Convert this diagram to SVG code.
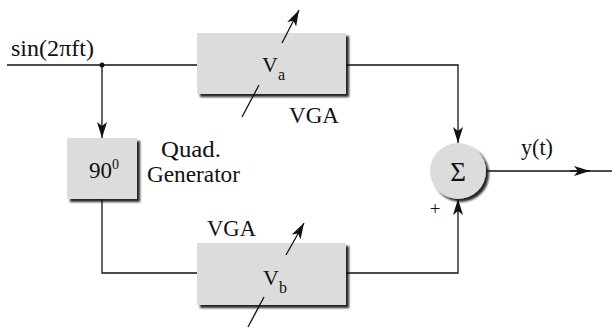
<svg xmlns="http://www.w3.org/2000/svg" width="612" height="329" viewBox="0 0 612 329">
<style>
.t{font-family:"Liberation Serif","Times New Roman",serif;fill:#111;}
.w{stroke:#111;stroke-width:1.3;fill:none;}
.blk{fill:#dcdcdc;filter:url(#sh);}
</style>
<defs>
<filter id="sh" x="-10%" y="-10%" width="130%" height="130%">
<feDropShadow dx="3" dy="3" stdDeviation="1" flood-color="#111" flood-opacity="0.9"/>
</filter>
<marker id="ah" viewBox="0 0 16 10" refX="16" refY="5" markerWidth="16" markerHeight="10" markerUnits="userSpaceOnUse" orient="auto">
<path d="M0,0 L16,5 L0,10 L4,5 z" fill="#111"/>
</marker>
</defs>
<g id="connectors">
<line class="w" x1="7" y1="65" x2="197" y2="65"/>
<circle cx="102" cy="65" r="2.5" fill="#111"/>
<line class="w" x1="102" y1="65" x2="102" y2="138" marker-end="url(#ah)"/>
<polyline class="w" points="102,199 102,273 197,273"/>
<polyline class="w" points="346,65 458,65 458,143" marker-end="url(#ah)"/>
<polyline class="w" points="346,273 458,273 458,199" marker-end="url(#ah)"/>
<line class="w" x1="486" y1="171" x2="612" y2="171"/>
<line class="w" x1="570" y1="171" x2="590" y2="171" marker-end="url(#ah)"/>
</g>
<g id="vga_a">
<rect class="blk" x="197" y="33" width="149" height="61"/>
<text class="t" x="262" y="72" font-size="22">V<tspan font-size="16" dy="8">a</tspan></text>
<line class="w" x1="242" y1="117" x2="259" y2="85"/>
<line class="w" x1="282" y1="43" x2="299" y2="10" marker-end="url(#ah)"/>
<text class="t" x="289" y="123" font-size="23" textLength="50" lengthAdjust="spacingAndGlyphs">VGA</text>
</g>
<g id="vga_b">
<rect class="blk" x="197" y="243" width="149" height="62"/>
<text class="t" x="263" y="285" font-size="22">V<tspan font-size="16" dy="8">b</tspan></text>
<line class="w" x1="248" y1="327" x2="264" y2="297"/>
<line class="w" x1="286" y1="255" x2="304" y2="223" marker-end="url(#ah)"/>
<text class="t" x="207" y="236" font-size="23" textLength="49" lengthAdjust="spacingAndGlyphs">VGA</text>
</g>
<g id="quad">
<rect class="blk" x="67" y="138" width="70" height="61"/>
<text class="t" x="89" y="178" font-size="23">90<tspan font-size="14" dy="-9">0</tspan></text>
<text class="t" x="161" y="157" font-size="23" textLength="60" lengthAdjust="spacingAndGlyphs">Quad.</text>
<text class="t" x="147" y="182" font-size="23" textLength="93" lengthAdjust="spacingAndGlyphs">Generator</text>
</g>
<g id="sum">
<circle cx="458" cy="171" r="28" fill="#dcdcdc" filter="url(#sh)"/>
<text class="t" x="458" y="181" font-size="27" text-anchor="middle">Σ</text>
<text class="t" x="435" y="215" font-size="19" text-anchor="middle">+</text>
</g>
<g id="labels">
<text class="t" x="11" y="56" font-size="23" textLength="83" lengthAdjust="spacingAndGlyphs">sin(2πft)</text>
<text class="t" x="521" y="155" font-size="23" textLength="32" lengthAdjust="spacingAndGlyphs">y(t)</text>
</g>
</svg>
